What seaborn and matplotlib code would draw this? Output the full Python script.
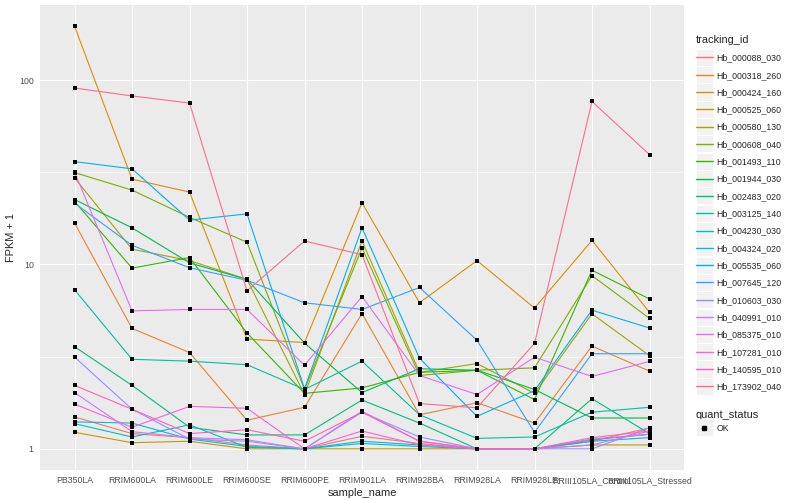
import matplotlib
matplotlib.use("Agg")
import matplotlib.pyplot as plt
from matplotlib.lines import Line2D
from matplotlib.patches import Rectangle
from matplotlib.legend_handler import HandlerLine2D
import numpy as np
import pandas as pd
import seaborn as sns

sns.set_theme(style="darkgrid", rc={"axes.facecolor": "#EBEBEB", "grid.color": "white"})
plt.rcParams['font.family'] = ['Liberation Sans', 'DejaVu Sans']

samples = ["PB350LA", "RRIM600LA", "RRIM600LE", "RRIM600SE", "RRIM600PE", "RRIM901LA",
           "RRIM928BA", "RRIM928LA", "RRIM928LE", "RRIII105LA_Control", "RRIII105LA_Stressed"]

genes = ["Hb_000088_030", "Hb_000318_260", "Hb_000424_160", "Hb_000525_060", "Hb_000580_130",
         "Hb_000608_040", "Hb_001493_110", "Hb_001944_030", "Hb_002483_020", "Hb_003125_140",
         "Hb_004230_030", "Hb_004324_020", "Hb_005535_060", "Hb_007645_120", "Hb_010603_030",
         "Hb_040991_010", "Hb_085375_010", "Hb_107281_010", "Hb_140595_010", "Hb_173902_040"]

# FPKM + 1, one value per sample
hb_000088_030 = [1.49, 1.21, 1.15, 1.05, 1.0, 1.17, 1.07, 1.0, 1.0, 1.1, 1.3]
hb_000318_260 = [16.8, 4.5, 3.33, 1.43, 1.68, 5.42, 1.53, 1.78, 1.38, 3.61, 2.64]
hb_000424_160 = [196, 29, 24.7, 3.94, 3.77, 21.6, 6.2, 10.5, 5.8, 13.5, 5.5]
hb_000525_060 = [1.23, 1.08, 1.1, 1.0, 1.0, 1.0, 1.0, 1.0, 1.0, 1.05, 1.05]
hb_000580_130 = [29.5, 12.1, 10.5, 8.3, 1.97, 13.4, 2.6, 2.9, 2.0, 5.4, 3.2]
hb_000608_040 = [31.5, 25.3, 18.0, 13.2, 2.1, 12.3, 2.5, 2.67, 2.75, 8.7, 5.1]
hb_001493_110 = [22.0, 9.55, 10.9, 4.25, 2.0, 2.14, 2.6, 2.67, 1.85, 9.3, 6.5]
hb_001944_030 = [22.5, 15.8, 10.2, 8.3, 3.75, 2.02, 2.72, 2.67, 2.1, 1.47, 1.47]
hb_002483_020 = [3.58, 2.21, 1.31, 1.19, 1.19, 1.84, 1.38, 1.0, 1.0, 1.87, 1.21]
hb_003125_140 = [7.3, 3.06, 2.99, 2.86, 2.1, 2.99, 1.53, 1.14, 1.16, 1.58, 1.68]
hb_004230_030 = [1.37, 1.16, 1.35, 1.02, 1.0, 1.07, 1.03, 1.0, 1.0, 1.12, 1.2]
hb_004324_020 = [1.40, 1.38, 1.13, 1.03, 1.0, 1.1, 1.05, 1.0, 1.0, 1.1, 1.15]
hb_005535_060 = [36.1, 33.0, 17.4, 18.8, 2.12, 15.8, 3.1, 1.50, 2.07, 5.65, 4.52]
hb_007645_120 = [21.5, 12.7, 9.6, 8.2, 6.2, 5.7, 7.5, 3.88, 1.23, 3.28, 3.28]
hb_010603_030 = [3.15, 1.64, 1.13, 1.1, 1.0, 1.58, 1.16, 1.0, 1.0, 1.0, 1.3]
hb_040991_010 = [2.02, 1.24, 1.15, 1.12, 1.0, 1.6, 1.1, 1.0, 1.0, 1.05, 1.25]
hb_085375_010 = [31.8, 5.6, 5.7, 5.7, 2.84, 6.7, 2.5, 1.97, 3.14, 2.47, 2.98]
hb_107281_010 = [1.75, 1.31, 1.70, 1.66, 1.0, 1.25, 1.05, 1.0, 1.0, 1.13, 1.2]
hb_140595_010 = [2.21, 1.64, 1.21, 1.27, 1.1, 1.58, 1.1, 1.0, 1.0, 1.15, 1.25]
hb_173902_040 = [90.5, 82.0, 75.0, 7.2, 13.4, 11.3, 1.76, 1.67, 3.73, 76.5, 39.4]

series = [hb_000088_030, hb_000318_260, hb_000424_160, hb_000525_060, hb_000580_130,
          hb_000608_040, hb_001493_110, hb_001944_030, hb_002483_020, hb_003125_140,
          hb_004230_030, hb_004324_020, hb_005535_060, hb_007645_120, hb_010603_030,
          hb_040991_010, hb_085375_010, hb_107281_010, hb_140595_010, hb_173902_040]

# ggplot default hue palette for 20 levels
colors = ["#F8766D", "#EA8331", "#D89000", "#C09B00", "#A3A500", "#7CAE00", "#39B600",
          "#00BB4E", "#00BF7D", "#00C1A3", "#00BFC4", "#00BAE0", "#00B0F6", "#35A2FF",
          "#9590FF", "#C77CFF", "#E76BF3", "#FA62DB", "#FF62BC", "#FF6C91"]

rows = []
for g, vals in zip(genes, series):
    for s, v in zip(samples, vals):
        rows.append({"tracking_id": g, "sample_name": s, "fpkm1": v, "quant_status": "OK"})
df = pd.DataFrame(rows)


class KeyHandler(HandlerLine2D):
    # legend key with the grey ggplot box behind it
    def create_artists(self, legend, orig_handle, xdescent, ydescent, width, height,
                       fontsize, trans):
        arts = super().create_artists(legend, orig_handle, xdescent, ydescent, width,
                                      height, fontsize, trans)
        side = width
        y0 = -ydescent + height / 2 - side / 2
        box = Rectangle((-xdescent, y0), width, side, facecolor="#F2F2F2",
                        edgecolor="white", lw=0.6, transform=trans)
        return [box] + arts


fig = plt.figure(figsize=(8, 5), dpi=100)
ax = fig.add_axes([0.05, 0.06, 0.805, 0.93])

sns.lineplot(data=df, x="sample_name", y="fpkm1", hue="tracking_id", palette=colors,
             estimator=None, sort=False, legend=False, lw=0.8, ax=ax)
sns.scatterplot(data=df, x="sample_name", y="fpkm1", color="black", marker="s", s=8,
                linewidth=0, legend=False, ax=ax, zorder=5)

ax.set_yscale("log")
lo, hi = np.log10(df.fpkm1.min()), np.log10(df.fpkm1.max())
pad = (hi - lo) * 0.05
ax.set_ylim(10 ** (lo - pad), 10 ** (hi + pad))
ax.set_xlim(-0.6, len(samples) - 0.4)
ax.set_yticks([1, 10, 100])
ax.set_yticklabels(["1", "10", "100"])
ax.set_yticks([10 ** 0.5, 10 ** 1.5], minor=True)
ax.yaxis.set_minor_formatter(matplotlib.ticker.NullFormatter())
ax.grid(which="major", color="white", lw=0.8)
ax.grid(which="minor", axis="y", color="white", lw=0.4)
ax.tick_params(axis="both", which="major", length=2.5, width=0.6, color="#333333",
               labelsize=6.3, labelcolor="#4D4D4D", pad=2)
ax.tick_params(axis="y", which="minor", length=0)
for sp in ax.spines.values():
    sp.set_visible(False)
ax.set_xlabel("sample_name", fontsize=7.9, labelpad=2)
ax.set_ylabel("FPKM + 1", fontsize=7.9, labelpad=2.5)

handles = [Line2D([], [], color=c, lw=1.0) for c in colors]
leg1 = fig.legend(handles, genes, title="tracking_id", loc="upper left",
                  bbox_to_anchor=(0.862, 0.942), frameon=False, fontsize=6.3,
                  title_fontsize=7.9, handlelength=1.95, handletextpad=0.45,
                  labelspacing=0.95, alignment="left", borderpad=0.2,
                  handler_map={Line2D: KeyHandler()})
h2 = [Line2D([], [], color="black", marker="s", ls="", markersize=3)]
leg2 = fig.legend(h2, ["OK"], title="quant_status", loc="upper left",
                  bbox_to_anchor=(0.862, 0.193), frameon=False, fontsize=6.3,
                  title_fontsize=7.9, handlelength=1.95, handletextpad=0.45,
                  alignment="left", borderpad=0.2, handler_map={Line2D: KeyHandler()})

fig.savefig("out.png", dpi=100)
